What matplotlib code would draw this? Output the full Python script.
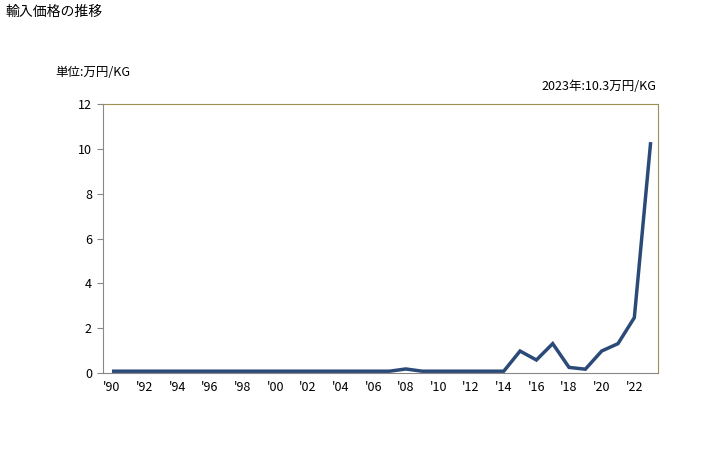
import matplotlib
matplotlib.use("Agg")
import matplotlib.pyplot as plt

plt.rcParams['font.family'] = ['Noto Sans CJK JP', 'DejaVu Sans']

years = list(range(1990, 2024))
values = [0.08] * 18 + [0.18, 0.08, 0.08, 0.08, 0.08, 0.08, 0.08,
                        0.98, 0.58, 1.31, 0.25, 0.17, 0.98, 1.31, 2.47, 10.3]
xtick_years = list(range(1990, 2023, 2))
xtick_labels = ["'" + str(y)[2:] for y in xtick_years]
yticks = [0, 2, 4, 6, 8, 10, 12]

fig = plt.figure(figsize=(7.28, 4.5), dpi=100)
ax = fig.add_axes([103/728, 1 - 373/450, (658-103)/728, (373-104)/450])
ax.plot(years, values, color='#2C4A78', linewidth=2.5, solid_capstyle='butt', solid_joinstyle='miter')
ax.set_xlim(1989.45, 2023.45)
ax.set_ylim(0, 12)
ax.set_yticks(yticks)
ax.set_yticklabels([str(v) for v in yticks], fontsize=9)
ax.set_xticks(xtick_years)
ax.set_xticklabels(xtick_labels, fontsize=9)
ax.tick_params(axis='x', length=0, pad=6)
ax.tick_params(axis='y', length=4, color='#888888', pad=4)
for s in ['top', 'right']:
    ax.spines[s].set_color('#9A8F55')
for s in ['left', 'bottom']:
    ax.spines[s].set_color('#888888')

fig.text(5/728, 1 - 12/450, '輸入価格の推移', fontsize=10, va='center', ha='left')
fig.text(55/728, 1 - 73/450, '単位:万円/KG', fontsize=9, va='center', ha='left')
fig.text(656/728, 1 - 86/450, '2023年:10.3万円/KG', fontsize=9, va='center', ha='right')

fig.savefig('out.png', dpi=100)
